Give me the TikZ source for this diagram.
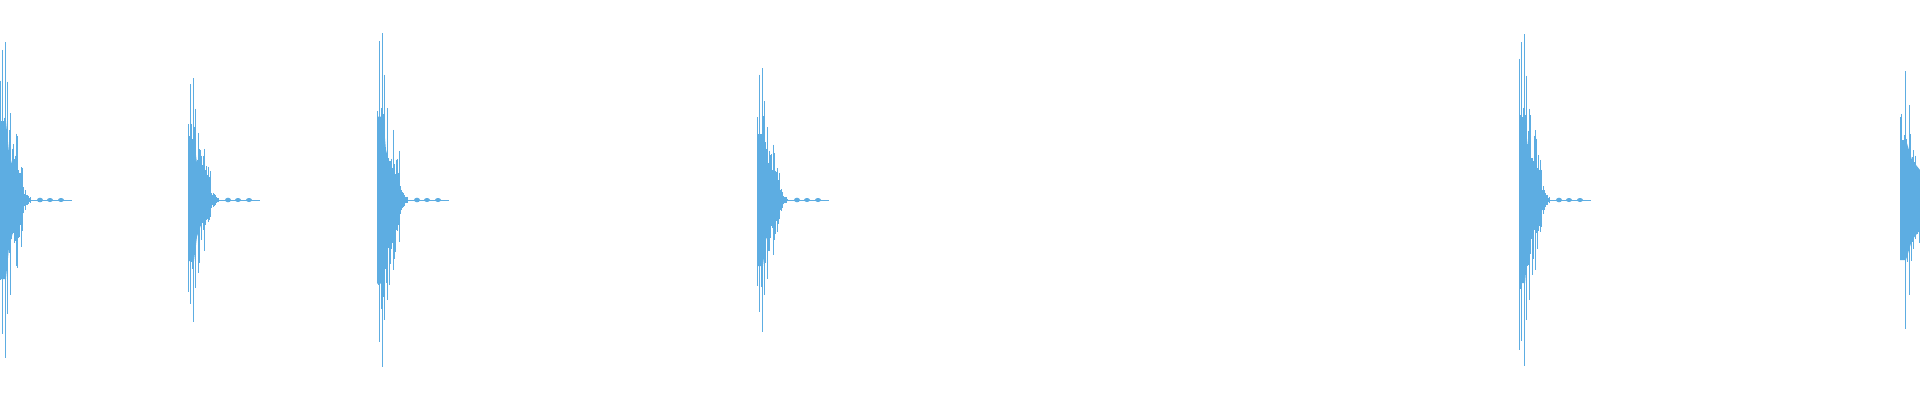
\documentclass[tikz,border=0pt]{standalone}
\definecolor{wave}{RGB}{93,173,226}
\tikzset{wv/.style={draw=wave,line width=0.7pt},blob/.style={fill=wave}}
\newcommand{\wburst}[2]{% x, amplitude
  \fill[wave] (#1,200-#2*0.5) -- (#1+6,200-#2*0.5) -- (#1+9,200-#2*0.3) -- (#1+14,200-#2*0.18) -- (#1+20,200-#2*0.06)
     -- (#1+20,200+#2*0.06) -- (#1+14,200+#2*0.18) -- (#1+9,200+#2*0.3) -- (#1+6,200+#2*0.5) -- (#1,200+#2*0.5) -- cycle;
  \foreach \i in {0,...,40}{
    \pgfmathsetmacro{\env}{exp(-\i/40)}
    \pgfmathsetmacro{\h}{#2*\env*(0.35+0.65*rnd*rnd)}
    \pgfmathsetmacro{\hb}{#2*\env*(0.35+0.65*rnd*rnd)}
    \draw[wv] (#1+\i*0.55,200-\h) -- (#1+\i*0.55,200+\hb);
  }
  \draw[wv] (#1+2,200-#2*0.95) -- (#1+2,200+#2*0.85);
  \draw[wv] (#1+5,200-#2) -- (#1+5,200+#2);
  \draw[wv] (#1+7.5,200-#2*0.75) -- (#1+7.5,200+#2*0.72);
  \draw[wv] (#1+10,200-#2*0.55) -- (#1+10,200+#2*0.6);
  \draw[wv] (#1+16,200-#2*0.42) -- (#1+16,200+#2*0.42);
  \foreach \j in {0,...,10}{
    \pgfmathsetmacro{\h}{#2*0.16*exp(-\j/5)*(0.4+0.6*rnd)}
    \draw[wv] (#1+22+\j*0.8,200+\h) -- (#1+22+\j*0.8,200-\h);
  }
  \fill[blob] (#1+40,200) ellipse (3pt and 2.3pt);
  \fill[blob] (#1+50,200) ellipse (3pt and 2pt);
  \fill[blob] (#1+61,200) ellipse (3pt and 2pt);
  \draw[wave,line width=0.8pt] (#1+14,200) -- (#1+72,200);
}
\begin{document}
\begin{tikzpicture}[x=1pt,y=-1pt]
\pgfmathsetseed{11}
\useasboundingbox (0,0) rectangle (1920,400);
\wburst{0}{158}
\wburst{188}{122}
\wburst{377}{167}
\wburst{757}{132}
\wburst{1519}{166}
\fill[wave] (1900,200-60) -- (1906,200-60) -- (1912,200-40) -- (1920,200-30) -- (1920,200+30) -- (1912,200+40) -- (1906,200+60) -- (1900,200+60) -- cycle;
\foreach \i in {0,...,36}{
  \pgfmathsetmacro{\h}{129*exp(-\i/40)*(0.35+0.65*rnd*rnd)}
  \pgfmathsetmacro{\hb}{129*exp(-\i/40)*(0.35+0.65*rnd*rnd)}
  \draw[wv] (1900+\i*0.55,200-\h) -- (1900+\i*0.55,200+\hb);
}
\draw[wv] (1905,200-129) -- (1905,200+129);
\draw[wv] (1909,200-95) -- (1909,200+95);
\end{tikzpicture}
\end{document}
